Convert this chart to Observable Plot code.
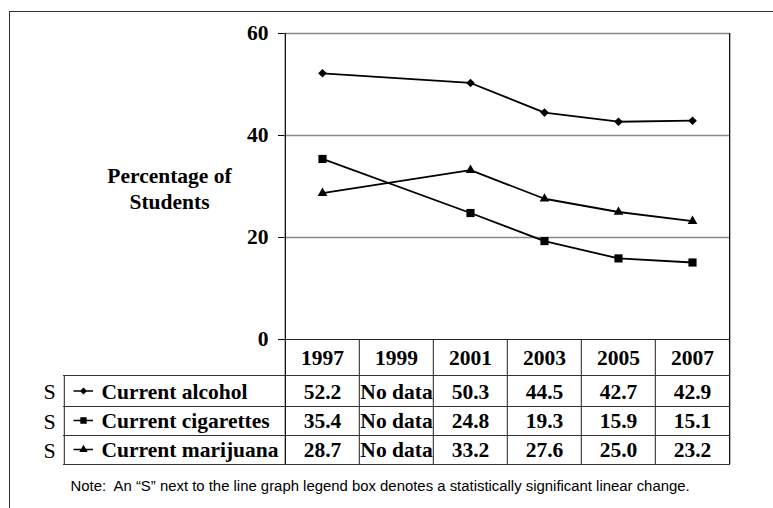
<!DOCTYPE html>
<html><head><meta charset="utf-8">
<script src="https://cdn.jsdelivr.net/npm/d3@7"></script>
<script src="https://cdn.jsdelivr.net/npm/@observablehq/plot@0.6"></script>
<style>
html,body{margin:0;padding:0;background:#fff;overflow:hidden;}
#wrap{position:relative;width:773px;height:508px;overflow:hidden;}
#border{position:absolute;left:9px;top:11px;width:800px;height:600px;border-left:1.5px solid #333;border-top:1.5px solid #333;pointer-events:none;}
</style></head><body><div id="wrap"><div id="chart"></div><div id="border"></div></div>
<script>
const years = ["1997", "1999", "2001", "2003", "2005", "2007"];
const seriesNames = ["Current alcohol", "Current cigarettes", "Current marijuana"];
const alcohol = [52.2, null, 50.3, 44.5, 42.7, 42.9];
const cigarettes = [35.4, null, 24.8, 19.3, 15.9, 15.1];
const marijuana = [28.7, null, 33.2, 27.6, 25.0, 23.2];
const significance = ["S", "S", "S"];
const yTicks = [0, 20, 40, 60];
const gridValues = [20, 40, 60];
const noDataLabel = "No data";
const yTitle = "Percentage of\nStudents";
const note = "Note:  An \u201cS\u201d next to the line graph legend box denotes a statistically significant linear change.";

const seriesValues = [alcohol, cigarettes, marijuana];

// layout
const W = 773, H = 508, mL = 284, mR = 43, mT = 33, mB = 169;
const bw = (W - mL - mR) / years.length;
const plotH = H - mB - mT;
const headerDy = 19;
const rowLines = [36, 67, 96, 125];
const rowMid = [52.5, 82, 111];
const tableLeft = 63;
const serif = "Liberation Serif, Times New Roman, serif";

const diamond = d3.symbolDiamond2 || d3.symbolDiamond;
const baseSymbols = [diamond, d3.symbolSquare, d3.symbolTriangle];
const symbols = [
  {symbol: baseSymbols[0], r: 3.9, lr: 3.2},
  {symbol: baseSymbols[1], r: 4.6, lr: 3.6},
  {symbol: baseSymbols[2], r: 3.6, lr: 3.1}
];
// legend key: a short line segment with the marker on it
const legendSymbol = base => ({
  draw(ctx, size) {
    ctx.moveTo(-10, -0.85); ctx.lineTo(9.5, -0.85); ctx.lineTo(9.5, 0.85); ctx.lineTo(-10, 0.85); ctx.closePath();
    base.draw(ctx, size);
  }
});

const rows = [];
seriesNames.forEach((s, k) => years.forEach((y, i) => rows.push({series: s, k, year: y, value: seriesValues[k][i]})));
const present = rows.filter(d => d.value != null);

const txt = {lineAnchor: "middle", fontFamily: serif};

const marks = [
  Plot.ruleY(gridValues, {stroke: "#888", strokeWidth: 1.3}),
  Plot.ruleY([0], {stroke: "#222", strokeWidth: 1.2}),
  // plot frame left/right extending down through the table
  Plot.ruleX([years[0]], {x: d => d, dx: -bw / 2, insetBottom: -rowLines[3], stroke: "#111", strokeWidth: 1.3}),
  Plot.ruleX([years[years.length - 1]], {x: d => d, dx: bw / 2, insetBottom: -rowLines[3], stroke: "#111", strokeWidth: 1.3}),
  // inner column separators of the table
  Plot.ruleX(years.slice(1), {x: d => d, dx: -bw / 2, insetTop: plotH, insetBottom: -rowLines[3], stroke: "#333", strokeWidth: 1.1}),
  // legend box left edge
  Plot.ruleX([years[0]], {x: d => d, dx: -bw / 2 - (mL - tableLeft), insetTop: plotH + rowLines[0], insetBottom: -rowLines[3], stroke: "#333", strokeWidth: 1.1}),
  ...rowLines.map(dy => Plot.ruleY([0], {dy, insetLeft: -(mL - tableLeft), stroke: "#333", strokeWidth: 1.1})),
  // data
  Plot.line(present, {x: "year", y: "value", z: "series", stroke: "black", strokeWidth: 1.8}),
  ...seriesNames.map((s, k) => Plot.dot(present.filter(d => d.k === k), {x: "year", y: "value", symbol: symbols[k].symbol, r: symbols[k].r, fill: "black", stroke: "none"})),
  // table header
  Plot.text(years, {...txt, x: d => d, text: d => d, frameAnchor: "bottom", dy: headerDy}),
  // table values
  ...seriesNames.map((s, k) => Plot.text(rows.filter(d => d.k === k), {
    ...txt, x: "year", text: d => d.value == null ? noDataLabel : d.value.toFixed(1), frameAnchor: "bottom", dy: rowMid[k]
  })),
  // legend rows
  ...seriesNames.map((s, k) => Plot.dot([s], {frameAnchor: "bottom-left", dx: 83 - mL, dy: rowMid[k] - 1, symbol: legendSymbol(baseSymbols[k]), r: symbols[k].lr, fill: "black", stroke: "none"})),
  ...seriesNames.map((s, k) => Plot.text([s], {...txt, text: d => d, frameAnchor: "bottom-left", textAnchor: "start", dx: 101 - mL, dy: rowMid[k]})),
  ...seriesNames.map((s, k) => Plot.text([significance[k]], {...txt, text: d => d, frameAnchor: "bottom-left", textAnchor: "middle", dx: 49 - mL, dy: rowMid[k], fontWeight: "normal", fontSize: 22})),
  // y title
  Plot.text([yTitle], {text: d => d, frameAnchor: "bottom-left", textAnchor: "middle", dx: 169 - mL, dy: 164 - (H - mB), lineAnchor: "top", lineHeight: 1.2, fontFamily: serif}),
  // note
  Plot.text([note], {text: d => d, frameAnchor: "bottom-left", textAnchor: "start", lineAnchor: "middle", dx: 70 - mL, dy: 486 - (H - mB), fontFamily: "Liberation Sans, Arial, sans-serif", fontWeight: "normal", fontSize: 14.9})
];

const chart = Plot.plot({
  width: W, height: H,
  marginLeft: mL, marginRight: mR, marginTop: mT, marginBottom: mB,
  style: {fontFamily: serif, fontSize: "21.5px", fontWeight: "bold", background: "transparent", color: "black", overflow: "visible"},
  x: {type: "band", domain: years, padding: 0, axis: null},
  y: {domain: [0, 60], ticks: yTicks, tickSize: 6, tickPadding: 10, label: null, tickFormat: d => String(d)},
  marks
});
document.getElementById("chart").appendChild(chart);
</script></body></html>
